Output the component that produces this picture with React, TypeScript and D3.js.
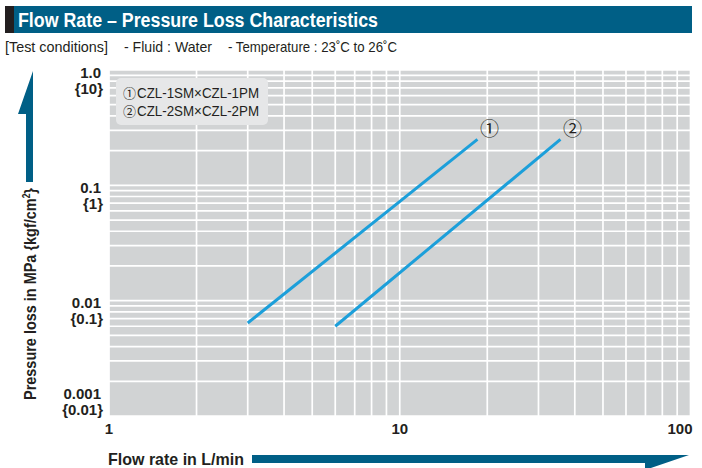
import React from "react";
import * as d3 from "d3";

// ---- data ----
const xTicks = [1, 10, 100];
const xTickLabels = ["1", "10", "100"];
const yTicks = [1, 0.1, 0.01, 0.001];
const yTickLabelsMPa = ["1.0", "0.1", "0.01", "0.001"];
const yTickLabelsKgf = ["{10}", "{1}", "{0.1}", "{0.01}"];
const seriesMarks = ["①", "②"];
const seriesNames = ["CZL-1SM×CZL-1PM", "CZL-2SM×CZL-2PM"];
const series1Flow = [3, 18.5];
const series1Pressure = [0.0064, 0.25];
const series2Flow = [6, 35.7];
const series2Pressure = [0.006, 0.25];

const W = 702;
const H = 468;
const TEAL = "#005f86";
const DARK = "#231f20";
const GRID_BG = "#d1d3d4";
const LINE = "#1c9fda";
const NARROW = "'Liberation Sans Narrow', 'Liberation Sans', Arial, sans-serif";
const CJK = "'Noto Sans CJK JP', 'DejaVu Sans', sans-serif";

export default function App() {
  const x = d3.scaleLog().domain([1, 100]).range([109, 690.5]);
  const y = d3.scaleLog().domain([0.001, 1]).range([416, 70]);

  const gridX: number[] = [];
  const gridY: number[] = [];
  for (let e = 0; e < 2; e++) for (let m = 1; m <= 9; m++) gridX.push(m * Math.pow(10, e));
  gridX.push(100);
  for (let e = -3; e < 0; e++) for (let m = 1; m <= 9; m++) gridY.push(m * Math.pow(10, e));
  gridY.push(1);

  const lineGen = d3
    .line<[number, number]>()
    .x((d) => x(d[0]))
    .y((d) => y(d[1]));

  const series = [
    { flow: series1Flow, pressure: series1Pressure },
    { flow: series2Flow, pressure: series2Pressure },
  ];

  const [x0, x1] = x.range();
  const [y0, y1] = y.range();

  return (
    <svg
      width={W}
      height={H}
      viewBox={`0 0 ${W} ${H}`}
      style={{ position: "absolute", left: 0, top: 0, background: "#fff" }}
    >
      {/* header */}
      <rect x={5} y={6} width={687} height={27} fill={TEAL} />
      <rect x={5} y={6} width={9} height={27} fill={DARK} />
      <text
        x={18}
        y={27}
        fill="#fff"
        fontFamily={NARROW}
        fontWeight="bold"
        fontSize={20}
        textLength={360}
        lengthAdjust="spacingAndGlyphs"
      >
        Flow Rate – Pressure Loss Characteristics
      </text>
      {/* test conditions */}
      <g fill={DARK} fontFamily={NARROW} fontSize={15}>
        <text x={5} y={52} textLength={103} lengthAdjust="spacingAndGlyphs">[Test conditions]</text>
        <text x={124} y={52} textLength={88} lengthAdjust="spacingAndGlyphs">- Fluid : Water</text>
        <text x={228} y={52} textLength={169} lengthAdjust="spacingAndGlyphs">- Temperature : 23˚C to 26˚C</text>
      </g>

      {/* plot background */}
      <rect x={x0} y={y1} width={x1 - x0} height={y0 - y1} fill={GRID_BG} />
      <g stroke="#fff" strokeWidth={1.7}>
        {gridX.map((v, i) => (
          <line key={"gx" + i} x1={x(v)} x2={x(v)} y1={y1} y2={y0} />
        ))}
        {gridY.map((v, i) => (
          <line key={"gy" + i} x1={x0} x2={x1} y1={y(v)} y2={y(v)} />
        ))}
      </g>

      {/* legend */}
      <rect x={116} y={78} width={152} height={47} rx={5} fill="#e6e7e8" />
      {seriesNames.map((n, i) => (
        <text key={"lg" + i} x={123} y={98 + i * 18} fill={DARK} fontSize={15}>
          <tspan fontFamily={CJK} fontSize={13}>{seriesMarks[i]}</tspan>
          <tspan fontFamily={NARROW} dx={1} textLength={122} lengthAdjust="spacingAndGlyphs">{n}</tspan>
        </text>
      ))}

      {/* series lines */}
      {series.map((s, i) => {
        const pts: [number, number][] = s.flow.map((f, j) => [f, s.pressure[j]]);
        const last = pts[pts.length - 1];
        return (
          <g key={"s" + i}>
            <path d={lineGen(pts) || ""} fill="none" stroke={LINE} strokeWidth={3} />
            <text
              x={x(last[0]) + 12}
              y={y(last[1]) - 3}
              fontFamily={CJK}
              fontSize={19}
              fill={DARK}
              textAnchor="middle"
            >
              {seriesMarks[i]}
            </text>
          </g>
        );
      })}

      {/* y tick labels */}
      <g fill={DARK} fontFamily={NARROW} fontWeight="bold" fontSize={15} textAnchor="end">
        {yTicks.map((v, i) => {
          const last = i === yTicks.length - 1;
          const base = last ? y(v) - 17 : y(v) + 7.5;
          return (
            <g key={"yt" + i}>
              <text x={101} y={base}>{yTickLabelsMPa[i]}</text>
              <text x={103} y={base + 16}>{yTickLabelsKgf[i]}</text>
            </g>
          );
        })}
      </g>

      {/* x tick labels */}
      <g fill={DARK} fontFamily={NARROW} fontWeight="bold" fontSize={15}>
        {xTicks.map((v, i) => {
          const last = i === xTicks.length - 1;
          return (
            <text
              key={"xt" + i}
              x={last ? x(v) + 2 : x(v)}
              y={434}
              textAnchor={last ? "end" : "middle"}
            >
              {xTickLabels[i]}
            </text>
          );
        })}
      </g>

      {/* y axis title & arrow */}
      <polygon points="33,71 18,114 26,114 26,182 33,182" fill={TEAL} />
      <text
        transform="translate(36,400) rotate(-90)"
        fill={DARK}
        fontFamily={NARROW}
        fontWeight="bold"
        fontSize={17}
        textLength={212}
        lengthAdjust="spacingAndGlyphs"
      >
        Pressure loss in MPa {"{kgf/cm"}
        <tspan fontSize={10} dy={-6}>2</tspan>
        <tspan dy={6}>{"}"}</tspan>
      </text>

      {/* x axis title & arrow */}
      <text
        x={108}
        y={465}
        fill={DARK}
        fontFamily={NARROW}
        fontWeight="bold"
        fontSize={17}
        textLength={136}
        lengthAdjust="spacingAndGlyphs"
      >
        Flow rate in L/min
      </text>
      <polygon points="252,455 689,455 645,470 645,463 252,463" fill={TEAL} />
    </svg>
  );
}
